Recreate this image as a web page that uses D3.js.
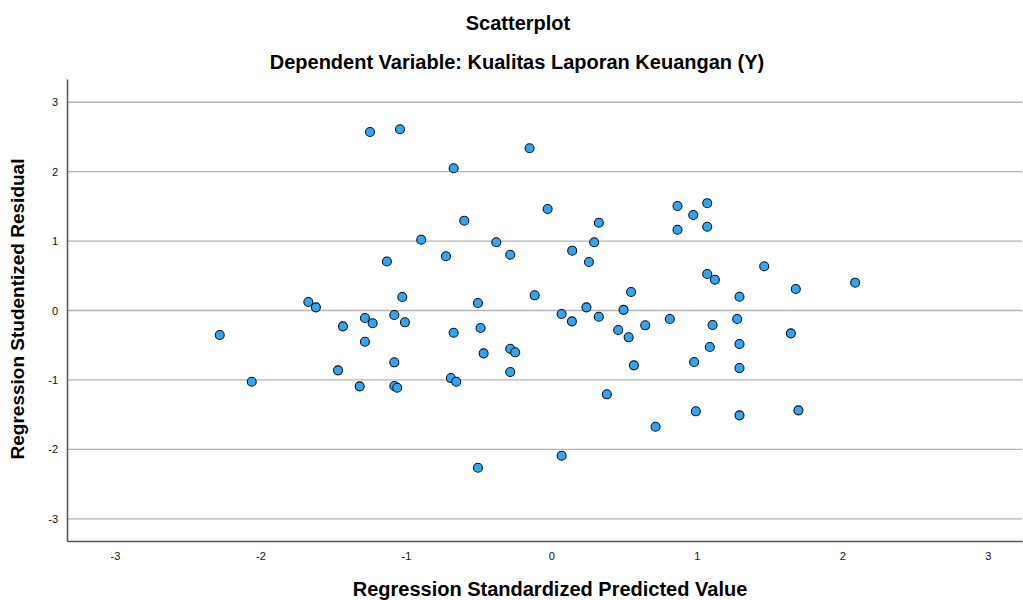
<!DOCTYPE html>
<html>
<head>
<meta charset="utf-8">
<script src="https://cdn.jsdelivr.net/npm/d3@7"></script>
<style>
  body { margin: 0; background: #fff; }
  text { font-family: "Liberation Sans", Arial, sans-serif; }
</style>
</head>
<body>
<div id="chart"></div>
<script>
  // predicted values (x) and studentized residuals (y)
  const predicted = [
    -2.280, -2.060, -1.671, -1.619, -1.467, -1.433, -1.318, -1.282, -1.282, -1.229,
    -1.247, -1.131, -1.080, -1.080, -1.080, -1.060, -1.041, -1.025, -1.007, -0.895,
    -0.725, -0.691, -0.672, -0.672, -0.654, -0.599, -0.505, -0.505, -0.487, -0.466,
    -0.379, -0.283, -0.283, -0.283, -0.249, -0.150, -0.115, -0.026, 0.070, 0.070,
    0.143, 0.141, 0.241, 0.258, 0.294, 0.326, 0.326, 0.381, 0.459, 0.496,
    0.531, 0.548, 0.567, 0.645, 0.716, 0.814, 0.867, 0.867, 0.975, 0.981,
    0.993, 1.071, 1.071, 1.071, 1.089, 1.108, 1.124, 1.277, 1.293, 1.293,
    1.293, 1.293, 1.463, 1.646, 1.680, 1.698, 2.088
  ]
  const residual = [
    -0.353, -1.026, 0.122, 0.046, -0.862, -0.228, -1.092, -0.108, -0.450, -0.184,
    2.572, 0.706, -0.065, -0.746, -1.088, -1.112, 2.611, 0.195, -0.170, 1.020,
    0.781, -0.973, 2.049, -0.320, -1.026, 1.294, -2.265, 0.108, -0.252, -0.617,
    0.983, 0.804, -0.550, -0.886, -0.602, 2.337, 0.219, 1.463, -0.050, -2.092,
    0.862, -0.156, 0.046, 0.699, 0.983, 1.265, -0.089, -1.207, -0.281, 0.010,
    -0.386, 0.267, -0.790, -0.213, -1.674, -0.122, 1.506, 1.164, 1.376, -0.742,
    -1.452, 1.546, 1.207, 0.526, -0.526, -0.209, 0.444, -0.122, 0.199, -0.483,
    -0.829, -1.510, 0.637, -0.329, 0.310, -1.438, 0.401
  ]
  const xTicks = [-3, -2, -1, 0, 1, 2, 3]
  const yTicks = [-3, -2, -1, 0, 1, 2, 3]

  const points = predicted.map((x, i) => ({ x: x, y: residual[i] }))

  const W = 1023, H = 600
  const margin = { top: 79, right: 1, bottom: 59, left: 67 }
  const width = W - margin.left - margin.right
  const height = H - margin.top - margin.bottom

  const x = d3.scaleLinear().domain([-3.33, 3.235]).range([0, width])
  const y = d3.scaleLinear().domain([-3.32, 3.335]).range([height, 0])

  const svg = d3.select('#chart').append('svg')
    .attr('width', W)
    .attr('height', H)

  const g = svg.append('g')
    .attr('transform', `translate(${margin.left},${margin.top})`)

  // horizontal grid lines
  g.append('g')
    .selectAll('line')
    .data(yTicks)
    .join('line')
    .attr('x1', 0)
    .attr('x2', width)
    .attr('y1', d => y(d))
    .attr('y2', d => y(d))
    .attr('stroke', '#b4b4b4')
    .attr('stroke-width', 1.3)

  // axes without tick marks, plain hyphen minus like the original
  const fmt = d => String(d)
  const xAxis = g.append('g')
    .attr('transform', `translate(0,${height})`)
    .call(d3.axisBottom(x).tickValues(xTicks).tickSize(0).tickPadding(11).tickFormat(fmt))
  const yAxis = g.append('g')
    .call(d3.axisLeft(y).tickValues(yTicks).tickSize(0).tickPadding(9).tickFormat(fmt))

  ;[xAxis, yAxis].forEach(a => {
    a.select('.domain').attr('stroke', '#5a5a5a').attr('stroke-width', 1.6)
    a.selectAll('text')
      .attr('fill', '#111')
      .style('font-size', '11px')
      .style('font-family', '"Liberation Sans", Arial, sans-serif')
  })

  // points
  g.append('g')
    .selectAll('circle')
    .data(points)
    .join('circle')
    .attr('cx', d => x(d.x))
    .attr('cy', d => y(d.y))
    .attr('r', 4.5)
    .attr('fill', '#2ea6f7')
    .attr('stroke', '#111')
    .attr('stroke-width', 1.1)

  // titles
  svg.append('text')
    .attr('x', 518).attr('y', 30)
    .attr('text-anchor', 'middle')
    .style('font-size', '20px').style('font-weight', 'bold')
    .text('Scatterplot')
  svg.append('text')
    .attr('x', 517).attr('y', 69)
    .attr('text-anchor', 'middle')
    .style('font-size', '20px').style('font-weight', 'bold')
    .text('Dependent Variable: Kualitas Laporan Keuangan (Y)')

  svg.append('text')
    .attr('x', 550).attr('y', 596)
    .attr('text-anchor', 'middle')
    .style('font-size', '20px').style('font-weight', 'bold')
    .text('Regression Standardized Predicted Value')

  svg.append('text')
    .attr('transform', 'translate(24,309) rotate(-90)')
    .attr('text-anchor', 'middle')
    .style('font-size', '19px').style('font-weight', 'bold')
    .text('Regression Studentized Residual')
</script>
</body>
</html>
